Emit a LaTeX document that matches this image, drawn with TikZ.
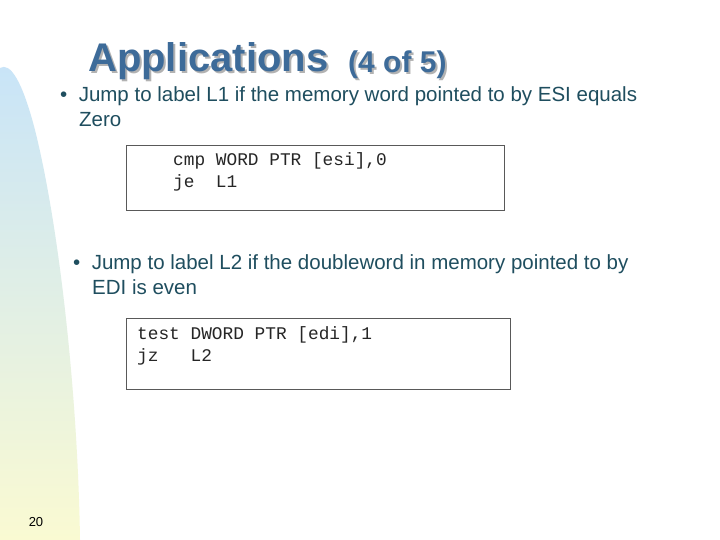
\documentclass[tikz,border=0pt]{standalone}
\usepackage{fontspec}
\setmainfont{Liberation Sans}
\setmonofont{Liberation Mono}
\begin{document}
\begin{tikzpicture}[x=1pt,y=-1pt,
  bul/.style={anchor=north west,text=bultext,font=\fontsize{20.5}{25}\selectfont,align=left,inner sep=0pt},
  codebox/.style={draw=gray!70!black,line width=0.8pt,anchor=north west,inner sep=0pt},
  code/.style={anchor=north west,font=\ttfamily\fontsize{17.8}{22}\selectfont,align=left,inner sep=0pt,text=black!85}]
\definecolor{bultext}{HTML}{1F4E5F}
\definecolor{titleblue}{HTML}{3D6B99}
\useasboundingbox (0,0) rectangle (720,540);
\fill[white] (0,0) rectangle (720,540);
\shade[top color={rgb,255:red,200;green,228;blue,248}, bottom color={rgb,255:red,250;green,250;blue,210}]
  (0,540) -- (0,68) .. controls (10,62) and (22,80) .. (35,130) .. controls (60,230) and (78,400) .. (80,540) -- cycle;
\node[anchor=west,text=gray!60,font=\bfseries\fontsize{40}{46}\selectfont,inner sep=0pt] at (90,63) {Applications};
\node[anchor=west,text=titleblue,font=\bfseries\fontsize{40}{46}\selectfont,inner sep=0pt] (title) at (88,61) {Applications};
\node[anchor=west,text=gray!60,font=\bfseries\fontsize{30}{34}\selectfont,inner sep=0pt] at (350,67) {(4 of 5)};
\node[anchor=west,text=titleblue,font=\bfseries\fontsize{30}{34}\selectfont,inner sep=0pt] (sub) at (348,65) {(4 of 5)};
\node[bul] (b1) at (60,86) {\textbullet\ \ Jump to label L1 if the memory word pointed to by ESI equals\\\hspace*{19pt}Zero};
\node[codebox,minimum width=378pt,minimum height=65pt] (box1) at (126,145) {};
\node[code] (c1) at (173,152) {cmp WORD PTR [esi],0\\je\ \ L1};
\node[bul] (b2) at (73,254) {\textbullet\ \ Jump to label L2 if the doubleword in memory pointed to by\\\hspace*{19pt}EDI is even};
\node[codebox,minimum width=384pt,minimum height=71pt] (box2) at (126,318) {};
\node[code] (c2) at (137,326) {test DWORD PTR [edi],1\\jz\ \ \ L2};
\node[anchor=center,font=\fontsize{13}{15}\selectfont,text=black] (pg) at (36,522) {20};
\end{tikzpicture}
\end{document}
